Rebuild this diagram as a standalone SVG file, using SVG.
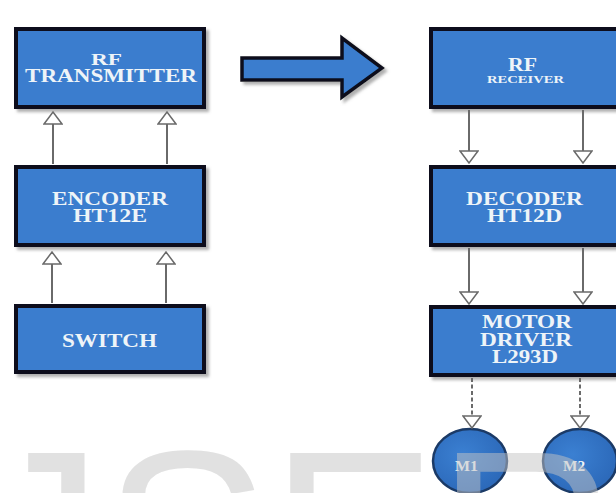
<svg xmlns="http://www.w3.org/2000/svg" width="616" height="493" viewBox="0 0 616 493">
  <defs>
    <style>
      .box { fill: #3a7dce; stroke: #0b101c; stroke-width: 4; filter: url(#shadow); }
      .motor { fill: url(#motorFill); stroke: #1b3a66; stroke-width: 2.5; }
      .lbl { font-family: "Liberation Serif", "Times New Roman", serif; font-weight: bold; fill: #eef4f8; }
      .wire { stroke: #6a6a6a; stroke-width: 2; fill: none; }
      .dash { stroke-dasharray: 4 2.5; }
      .mark { font-family: "Liberation Sans", Arial, sans-serif; font-size: 250px; fill: #c4c4c4; opacity: 0.5; }
    </style>
    <filter id="shadow" x="-10%" y="-10%" width="125%" height="130%">
      <feDropShadow dx="3" dy="3" stdDeviation="1.5" flood-color="#7a7a7a" flood-opacity="0.6"/>
    </filter>
    <radialGradient id="motorFill" cx="0.4" cy="0.4" r="0.7">
      <stop offset="0" stop-color="#3b80d2"/>
      <stop offset="1" stop-color="#2a66b6"/>
    </radialGradient>
    <marker id="head" viewBox="0 0 14 20" markerWidth="14" markerHeight="20" refX="13" refY="10" orient="auto" markerUnits="userSpaceOnUse">
      <path d="M1,1 L13,10 L1,19 Z" fill="#ffffff" stroke="#6a6a6a" stroke-width="1.5"/>
    </marker>
  </defs>

  <rect width="616" height="493" fill="#ffffff"/>

  <!-- transmitter side -->
  <g id="rf-transmitter">
    <rect class="box" x="16" y="29" width="188" height="78"/>
    <text class="lbl" x="91" y="65" font-size="16" textLength="31" lengthAdjust="spacingAndGlyphs">RF</text>
    <text class="lbl" x="25" y="82" font-size="18" textLength="172" lengthAdjust="spacingAndGlyphs">TRANSMITTER</text>
  </g>
  <g id="encoder">
    <rect class="box" x="16" y="167" width="188" height="78"/>
    <text class="lbl" x="52" y="205" font-size="18" textLength="116" lengthAdjust="spacingAndGlyphs">ENCODER</text>
    <text class="lbl" x="73" y="222" font-size="18" textLength="74" lengthAdjust="spacingAndGlyphs">HT12E</text>
  </g>
  <g id="switch">
    <rect class="box" x="16" y="306" width="188" height="66"/>
    <text class="lbl" x="62" y="347" font-size="19" textLength="95" lengthAdjust="spacingAndGlyphs">SWITCH</text>
  </g>

  <!-- link between the two sides -->
  <g id="link-arrow">
    <polygon points="242,58 342,58 342,38 382,68 342,97 342,80 242,80" fill="#3a7dce" stroke="#0b101c" stroke-width="3.5" stroke-linejoin="miter" filter="url(#shadow)"/>
  </g>

  <!-- receiver side -->
  <g id="rf-receiver">
    <rect class="box" x="431" y="29" width="188" height="78"/>
    <text class="lbl" x="508" y="71" font-size="18" textLength="29" lengthAdjust="spacingAndGlyphs">RF</text>
    <text class="lbl" x="487" y="83" font-size="11" textLength="77" lengthAdjust="spacingAndGlyphs">RECEIVER</text>
  </g>
  <g id="decoder">
    <rect class="box" x="431" y="167" width="188" height="78"/>
    <text class="lbl" x="466" y="205" font-size="18" textLength="117" lengthAdjust="spacingAndGlyphs">DECODER</text>
    <text class="lbl" x="487" y="222" font-size="18" textLength="75" lengthAdjust="spacingAndGlyphs">HT12D</text>
  </g>
  <g id="motor-driver">
    <rect class="box" x="431" y="307" width="188" height="68"/>
    <text class="lbl" x="482" y="328" font-size="18" textLength="90" lengthAdjust="spacingAndGlyphs">MOTOR</text>
    <text class="lbl" x="480" y="346" font-size="18" textLength="92" lengthAdjust="spacingAndGlyphs">DRIVER</text>
    <text class="lbl" x="492" y="363" font-size="18" textLength="66" lengthAdjust="spacingAndGlyphs">L293D</text>
  </g>
  <g id="m1">
    <ellipse class="motor" cx="470" cy="461" rx="37" ry="32"/>
    <text class="lbl" x="455" y="471" font-size="14" textLength="23" lengthAdjust="spacingAndGlyphs">M1</text>
  </g>
  <g id="m2">
    <ellipse class="motor" cx="580" cy="461" rx="37" ry="32"/>
    <text class="lbl" x="563" y="471" font-size="14" textLength="22" lengthAdjust="spacingAndGlyphs">M2</text>
  </g>

  <!-- connectors -->
  <g id="connectors">
    <line class="wire" x1="52" y1="303" x2="52" y2="252" marker-end="url(#head)"/>
    <line class="wire" x1="166" y1="303" x2="166" y2="252" marker-end="url(#head)"/>
    <line class="wire" x1="53" y1="164" x2="53" y2="112" marker-end="url(#head)"/>
    <line class="wire" x1="167" y1="164" x2="167" y2="112" marker-end="url(#head)"/>
    <line class="wire" x1="469" y1="110" x2="469" y2="163" marker-end="url(#head)"/>
    <line class="wire" x1="583" y1="110" x2="583" y2="163" marker-end="url(#head)"/>
    <line class="wire" x1="469" y1="248" x2="469" y2="304" marker-end="url(#head)"/>
    <line class="wire" x1="583" y1="248" x2="583" y2="304" marker-end="url(#head)"/>
    <line class="wire dash" x1="472" y1="378" x2="472" y2="428" marker-end="url(#head)"/>
    <line class="wire dash" x1="580" y1="378" x2="580" y2="428" marker-end="url(#head)"/>
  </g>

  <!-- faint page watermark along the bottom edge -->
  <text class="mark" x="-22" y="626">JSER</text>
</svg>
